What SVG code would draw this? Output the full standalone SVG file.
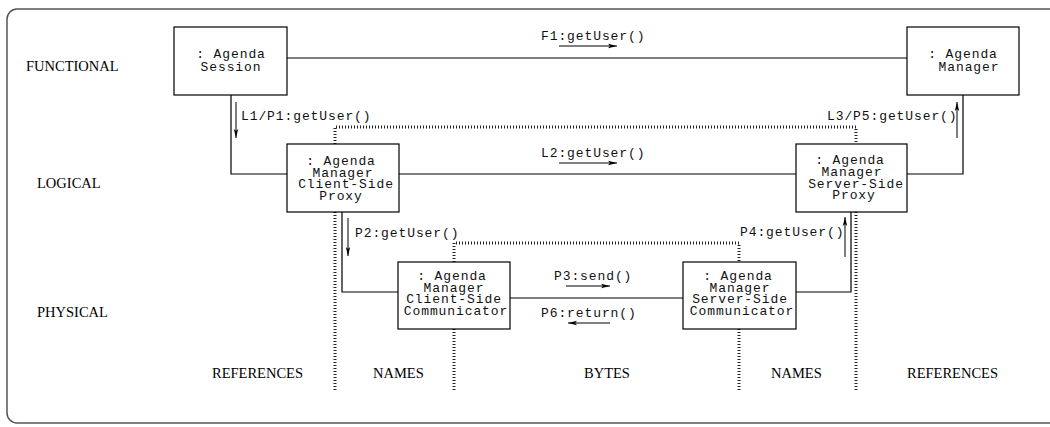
<svg xmlns="http://www.w3.org/2000/svg" width="1050" height="427" viewBox="0 0 1050 427">
<style>
.box{fill:#fff;stroke:#000;stroke-width:1.2}
.mono{font-family:"Liberation Mono","Courier New",monospace;font-size:13px;letter-spacing:0.9px;fill:#111}
.serif{font-family:"Liberation Serif","Times New Roman",serif;font-size:14.5px;fill:#000}
.c{text-anchor:middle}
.ln{fill:none;stroke:#000;stroke-width:1.2}
.arr{fill:none;stroke:#000;stroke-width:1;marker-end:url(#ah)}
.dot{fill:none;stroke:#222;stroke-width:3;stroke-dasharray:1 2}
</style>
<defs>
<marker id="ah" markerUnits="userSpaceOnUse" markerWidth="10" markerHeight="6" refX="9" refY="3" orient="auto">
<path d="M0,0.8 L9,3 L0,5.2 L2,3 Z" fill="#000"/>
</marker>
</defs>
<rect x="7" y="9" width="1070" height="414" rx="10" fill="none" stroke="#555" stroke-width="1.5"/>

<g id="layer-labels">
<text class="serif" x="26" y="71">FUNCTIONAL</text>
<text class="serif" x="37" y="188">LOGICAL</text>
<text class="serif" x="37" y="317">PHYSICAL</text>
<text class="serif" x="212" y="378">REFERENCES</text>
<text class="serif" x="373" y="378">NAMES</text>
<text class="serif" x="584" y="378">BYTES</text>
<text class="serif" x="771" y="378">NAMES</text>
<text class="serif" x="907" y="378">REFERENCES</text>
</g>

<g id="boundaries">
<path class="dot" d="M335,144 V127 H856 V144"/>
<path class="dot" d="M335,212 V390"/>
<path class="dot" d="M856,212 V392"/>
<path class="dot" d="M454,262 V243 H739 V262"/>
<path class="dot" d="M454,329 V390"/>
<path class="dot" d="M739,329 V390"/>
</g>

<g id="connectors">
<path class="ln" d="M287,58 H907"/>
<path class="ln" d="M231,95 V174 H287"/>
<path class="ln" d="M399,174 H796"/>
<path class="ln" d="M907,174 H963 V95"/>
<path class="ln" d="M342,212 V292 H398"/>
<path class="ln" d="M510,298 H683"/>
<path class="ln" d="M796,292 H851 V212"/>
<line class="arr" x1="559" y1="46" x2="617" y2="46"/>
<line class="arr" x1="559" y1="163" x2="617" y2="163"/>
<line class="arr" x1="236" y1="102" x2="236" y2="138"/>
<line class="arr" x1="957" y1="138" x2="957" y2="102"/>
<line class="arr" x1="348" y1="218" x2="348" y2="256"/>
<line class="arr" x1="845" y1="257" x2="845" y2="217"/>
<line class="arr" x1="566" y1="286" x2="610" y2="286"/>
<line class="arr" x1="610" y1="323" x2="568" y2="323"/>
<text class="mono" x="541" y="40">F1:getUser()</text>
<text class="mono" x="541" y="157">L2:getUser()</text>
<text class="mono" x="241" y="120">L1/P1:getUser()</text>
<text class="mono" x="827" y="120">L3/P5:getUser()</text>
<text class="mono" x="355" y="237">P2:getUser()</text>
<text class="mono" x="740" y="236">P4:getUser()</text>
<text class="mono" x="554" y="280">P3:send()</text>
<text class="mono" x="541" y="317">P6:return()</text>
</g>

<g id="agenda-session">
<rect class="box" x="174" y="27" width="113" height="68"/>
<text class="mono c" x="231" y="58">: Agenda</text>
<text class="mono c" x="231" y="71">Session</text>
</g>

<g id="agenda-manager">
<rect class="box" x="907" y="27" width="112" height="68"/>
<text class="mono c" x="963" y="58">: Agenda</text>
<text class="mono c" x="969" y="71">Manager</text>
</g>

<g id="client-proxy">
<rect class="box" x="287" y="144" width="112" height="68"/>
<text class="mono c" x="341" y="165">: Agenda</text>
<text class="mono c" x="343" y="176.5">Manager</text>
<text class="mono c" x="346" y="188">Client-Side</text>
<text class="mono c" x="341" y="199.5">Proxy</text>
</g>

<g id="server-proxy">
<rect class="box" x="796" y="144" width="111" height="68"/>
<text class="mono c" x="850" y="164">: Agenda</text>
<text class="mono c" x="852" y="176">Manager</text>
<text class="mono c" x="856" y="187.5">Server-Side</text>
<text class="mono c" x="854" y="199">Proxy</text>
</g>

<g id="client-communicator">
<rect class="box" x="398" y="262" width="112" height="67"/>
<text class="mono c" x="452" y="280">: Agenda</text>
<text class="mono c" x="454" y="291.7">Manager</text>
<text class="mono c" x="454" y="303.4">Client-Side</text>
<text class="mono c" x="456" y="315">Communicator</text>
</g>

<g id="server-communicator">
<rect class="box" x="683" y="262" width="113" height="67"/>
<text class="mono c" x="738" y="280">: Agenda</text>
<text class="mono c" x="740" y="291.7">Manager</text>
<text class="mono c" x="740" y="303.4">Server-Side</text>
<text class="mono c" x="742" y="315">Communicator</text>
</g>
</svg>
